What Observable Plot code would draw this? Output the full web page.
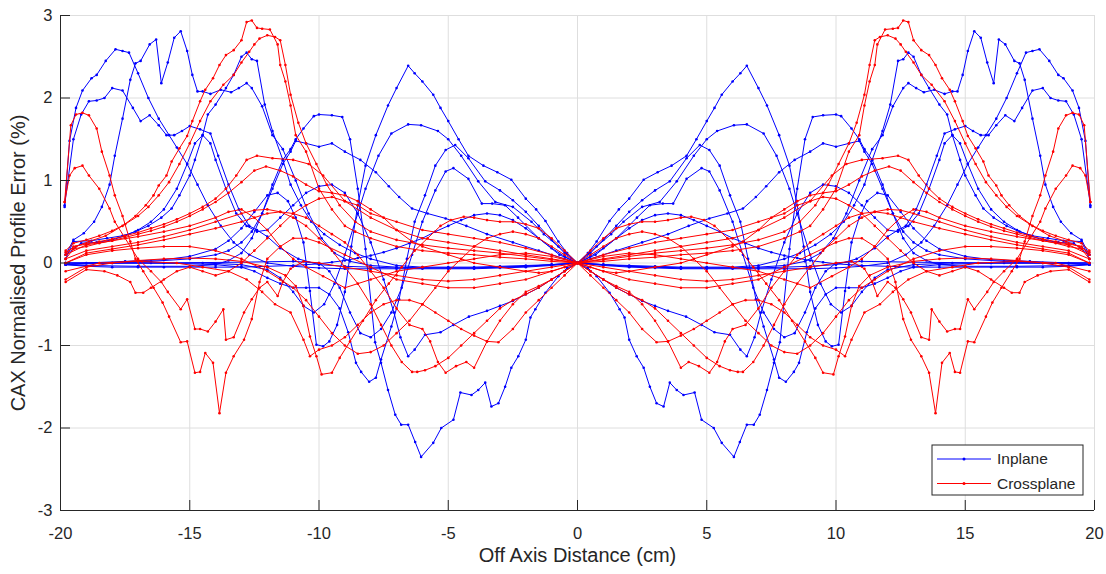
<!DOCTYPE html>
<html><head><meta charset="utf-8">
<script src="https://cdn.jsdelivr.net/npm/d3@7"></script>
<script src="https://cdn.jsdelivr.net/npm/@observablehq/plot@0.6"></script>
<style>
body{margin:0;background:#fff;}
#wrap{position:relative;width:1106px;height:574px;}
#legend{position:absolute;left:931px;top:444px;}
</style></head><body><div id="wrap"></div>
<script>
// Values read for the right half (x >= 0); the profiles are mirror-symmetric about x = 0.
const inplane1 = [[0,0],[1,-0.02],[2,-0.03],[3,-0.04],[4,-0.05],[5,-0.05],[6,-0.05],[7,-0.03],[8,0.05],[8.6,0.12],[9.2,0.22],[9.8,0.35],[10.3,0.5],[10.7,0.7],[11.1,0.95],[11.4,1.25],[11.8,1.6],[12.1,1.92],[12.4,2.45],[12.6,2.47],[12.8,2.55],[13.0,2.5],[13.3,2.28],[13.6,2.12],[14.0,1.92],[14.3,1.8],[14.5,1.55],[14.8,1.25],[15.0,1.06],[15.4,0.82],[15.7,0.66],[16.1,0.55],[16.6,0.45],[17.1,0.38],[17.6,0.33],[18.2,0.3],[18.8,0.27],[19.5,0.26],[19.8,0.05]];
const inplane2 = [[0,0],[1,-0.02],[2,-0.04],[3,-0.05],[4,-0.06],[5,-0.06],[6,-0.06],[7,-0.05],[8,-0.03],[8.8,0.02],[9.4,0.12],[9.9,0.3],[10.4,0.6],[10.9,1.0],[11.4,1.38],[11.8,1.55],[12.2,1.9],[12.6,2.12],[12.8,2.18],[13.1,2.12],[13.4,2.07],[13.8,2.1],[14.2,2.05],[14.5,2.08],[14.7,2.08],[14.9,2.28],[15.1,2.57],[15.35,2.81],[15.6,2.73],[15.85,2.43],[16.1,2.18],[16.3,2.71],[16.55,2.65],[16.9,2.45],[17.1,2.42],[17.3,2.22],[17.6,1.75],[17.9,1.3],[18.1,0.95],[18.4,0.68],[18.7,0.5],[19.1,0.36],[19.5,0.28],[19.8,0.1]];
const inplane3 = [[0,0],[1,-0.03],[2,-0.05],[3,-0.06],[4,-0.07],[5,-0.07],[6,-0.07],[7,-0.07],[8,-0.07],[9,-0.07],[10,-0.06],[11,-0.04],[12,0.0],[12.7,0.1],[13.3,0.25],[13.8,0.45],[14.3,0.7],[14.7,0.95],[15.1,1.2],[15.5,1.4],[15.8,1.55],[16.2,1.75],[16.6,2.0],[17.0,2.3],[17.35,2.55],[17.6,2.57],[17.87,2.59],[18.25,2.45],[18.6,2.28],[18.8,2.24],[19.15,2.09],[19.4,1.88],[19.65,1.48],[19.84,0.68]];
const inplane4 = [[0,0],[1,-0.02],[2,-0.04],[3,-0.05],[4,-0.06],[5,-0.06],[6,-0.06],[7,-0.06],[8,-0.05],[9,-0.04],[10,-0.02],[10.8,0.05],[11.5,0.18],[12.0,0.32],[12.4,0.4],[12.7,0.45],[13.1,0.65],[13.5,0.95],[13.9,1.3],[14.2,1.57],[14.6,1.62],[15.0,1.66],[15.3,1.6],[15.6,1.55],[15.9,1.55],[16.2,1.67],[16.55,1.79],[16.9,1.72],[17.2,1.88],[17.6,2.09],[18.0,2.12],[18.3,2.0],[18.6,1.97],[18.9,1.96],[19.2,1.8],[19.5,1.5],[19.84,0.7]];
const inplane5 = [[0,0],[0.4,0.12],[0.74,0.26],[1.24,0.51],[1.6,0.65],[2.0,0.78],[2.56,1.01],[3.1,1.1],[3.64,1.18],[4.22,1.3],[4.6,1.5],[5.0,1.72],[5.3,1.88],[5.58,2.04],[6.0,2.2],[6.3,2.3],[6.55,2.39],[7.0,2.12],[7.33,1.91],[7.8,1.55],[8.2,1.18],[8.5,0.7],[8.75,0.2],[9.0,-0.35],[9.3,-0.75],[9.6,-0.95],[9.84,-1.01],[10.1,-0.99],[10.35,-0.34],[10.6,0.25],[10.9,0.55],[11.2,0.75],[11.6,0.85],[12.0,0.82],[12.5,0.62],[13.0,0.42],[13.5,0.27],[14.0,0.17],[15.0,0.08],[16.0,0.04],[17.5,0.02],[19.0,0.0],[19.8,-0.02]];
const inplane6 = [[0,0],[0.5,0.12],[1.0,0.28],[1.5,0.45],[2.0,0.62],[2.5,0.76],[3.0,0.88],[3.57,0.99],[4.22,1.27],[4.73,1.43],[5.1,1.37],[5.5,1.18],[5.9,0.82],[6.3,0.5],[6.6,0.05],[6.9,-0.44],[7.2,-0.77],[7.6,-1.17],[7.8,-1.39],[8.06,-1.44],[8.37,-1.32],[8.57,-1.21],[8.87,-0.84],[9.2,-0.55],[9.6,-0.38],[10.0,-0.3],[10.5,-0.3],[11.0,-0.3],[11.5,-0.25],[12.0,-0.18],[12.5,-0.1],[13.0,-0.05],[14.0,-0.02],[16.0,0.0],[18.0,0.0],[19.8,0.0]];
const inplane7 = [[0,0],[0.74,0.2],[1.3,0.35],[1.78,0.5],[2.5,0.68],[3.18,0.74],[3.84,0.99],[4.5,1.3],[5.0,1.5],[5.4,1.6],[6.05,1.67],[6.55,1.68],[7.2,1.57],[7.7,1.3],[8.2,0.9],[8.6,0.5],[9.0,0.1],[9.4,-0.25],[9.8,-0.5],[10.2,-0.6],[10.6,-0.52],[11.0,-0.35],[11.5,-0.18],[12.0,-0.08],[13.0,-0.02],[14.5,0.0],[16.5,0.0],[19.8,0.0]];
const inplane8 = [[0,0],[0.7,0.1],[1.5,0.3],[2.3,0.55],[2.8,0.7],[3.3,0.72],[3.7,0.72],[4.22,1.02],[4.8,1.15],[5.1,1.11],[5.5,0.88],[6.0,0.5],[6.4,0.1],[6.8,-0.3],[7.2,-0.6],[7.6,-0.8],[8.0,-0.9],[8.4,-0.85],[8.8,-0.6],[9.2,-0.3],[9.6,-0.1],[10.0,0.0],[11.0,0.02],[13.0,0.01],[16.0,0.0],[19.8,0.0]];
const inplane9 = [[0,0],[0.5,-0.1],[1.0,-0.2],[1.5,-0.3],[2.0,-0.38],[2.5,-0.46],[3.0,-0.52],[3.5,-0.58],[4.2,-0.65],[4.8,-0.75],[5.3,-0.84],[5.9,-0.87],[6.3,-1.05],[6.55,-1.13],[6.85,-0.9],[7.1,-0.6],[7.5,-0.2],[8.0,0.25],[8.5,0.6],[9.0,0.85],[9.5,0.95],[10.0,0.93],[10.5,0.85],[11.0,0.7],[11.5,0.55],[12.0,0.4],[12.4,0.38],[12.8,0.45],[13.2,0.6],[13.6,0.9],[14.0,1.25],[14.2,1.45],[14.5,1.55],[14.8,1.45],[15.1,1.2],[15.5,0.9],[16.0,0.65],[16.5,0.5],[17.0,0.4],[17.5,0.33],[18.0,0.28],[18.6,0.25],[19.2,0.24],[19.8,0.1]];
const inplane10 = [[0,0],[0.5,0.05],[1.5,0.15],[2.5,0.25],[3.5,0.35],[4.3,0.45],[5.1,0.54],[5.8,0.6],[6.4,0.66],[6.9,0.8],[7.3,0.93],[7.8,1.1],[8.4,1.25],[9.0,1.35],[9.5,1.45],[10.0,1.41],[10.5,1.45],[10.9,1.48],[11.1,1.35],[11.4,1.2],[11.8,0.9],[12.2,0.6],[12.6,0.38],[13.0,0.25],[13.5,0.15],[14.0,0.1],[15.0,0.05],[16.5,0.02],[18.0,0.0],[19.8,-0.02]];
const inplane11 = [[0,0],[0.4,-0.06],[0.74,-0.16],[1.24,-0.36],[1.63,-0.56],[1.82,-0.66],[2.0,-0.93],[2.29,-1.13],[2.56,-1.27],[2.8,-1.5],[3.06,-1.7],[3.33,-1.74],[3.57,-1.45],[3.84,-1.54],[4.1,-1.6],[4.53,-1.57],[4.8,-1.9],[5.27,-2.0],[5.58,-2.18],[6.05,-2.35],[6.28,-2.17],[6.55,-1.96],[6.82,-1.96],[7.05,-1.84],[7.33,-1.54],[7.6,-1.21],[7.83,-0.96],[8.2,0.17],[8.5,0.9],[8.8,1.5],[9.1,1.77],[9.5,1.79],[10.0,1.8],[10.2,1.78],[10.6,1.63],[10.9,1.5],[11.1,1.38],[11.4,1.25],[11.8,0.95],[12.2,0.6],[12.6,0.3],[13.0,0.12],[13.5,0.03],[14.0,-0.02],[15.0,-0.04],[17.0,-0.04],[19.0,-0.03],[19.8,-0.02]];
const inplane12 = [[0,0],[0.5,0.08],[1,0.18],[1.5,0.3],[2,0.42],[2.5,0.52],[3,0.58],[3.5,0.6],[4,0.58],[4.5,0.52],[5,0.45],[5.5,0.38],[6,0.3],[6.5,0.24],[7,0.18],[7.5,0.13],[8,0.09],[8.5,0.06],[9,0.03],[9.5,0.01],[10,-0.01],[10.5,-0.02],[11,-0.03],[12,-0.04],[13,-0.05],[14,-0.05],[15,-0.05],[16,-0.05],[17,-0.05],[18,-0.05],[19,-0.04],[19.8,-0.02]];

const crossplane1 = [[0,0],[1,0.02],[2,0.05],[3,0.07],[4,0.1],[5,0.12],[6,0.15],[7,0.2],[8,0.3],[8.6,0.38],[9.0,0.45],[9.5,0.65],[10.0,0.9],[10.5,1.35],[10.9,1.55],[11.1,1.91],[11.3,2.2],[11.5,2.4],[11.6,2.65],[11.9,2.83],[12.2,2.84],[12.4,2.85],[12.6,2.94],[12.8,2.92],[13.0,2.7],[13.3,2.58],[13.6,2.52],[13.85,2.4],[14.1,2.24],[14.4,2.1],[14.6,1.96],[14.9,1.72],[15.1,1.54],[15.4,1.39],[15.7,1.23],[15.9,1.06],[16.2,0.94],[16.4,0.82],[16.7,0.7],[17.1,0.57],[17.6,0.45],[18.25,0.33],[18.9,0.26],[19.4,0.2],[19.8,0.13]];
const crossplane2 = [[0,0],[1,0.04],[2,0.08],[3,0.12],[4,0.15],[5,0.18],[6,0.22],[7,0.28],[8,0.38],[8.6,0.5],[9.2,0.7],[9.7,0.95],[10.1,1.2],[10.5,1.45],[10.8,1.7],[11.1,2.04],[11.3,2.4],[11.5,2.7],[11.7,2.74],[12.0,2.76],[12.3,2.72],[12.5,2.65],[12.7,2.56],[13.0,2.43],[13.3,2.28],[13.7,2.16],[14.2,1.96],[14.6,1.72],[15.0,1.45],[15.4,1.2],[15.8,0.98],[16.2,0.82],[16.6,0.68],[17.0,0.57],[17.5,0.47],[18.0,0.39],[18.5,0.33],[19.0,0.28],[19.5,0.24],[19.8,0.15]];
const crossplane3 = [[0,0],[1,-0.1],[2,-0.2],[3,-0.25],[4,-0.3],[5,-0.3],[6,-0.25],[7,-0.2],[8,-0.05],[9,0.1],[10,0.25],[10.5,0.3],[11,0.3],[11.5,0.2],[12,0.05],[12.3,-0.23],[12.6,-0.68],[12.9,-0.93],[13.3,-1.13],[13.6,-1.33],[13.85,-1.82],[14.1,-1.21],[14.4,-1.09],[14.6,-1.32],[14.8,-1.33],[15.1,-0.95],[15.35,-0.96],[15.8,-0.65],[16.05,-0.48],[16.4,-0.3],[16.8,-0.1],[17.1,0.05],[17.3,0.26],[17.6,0.57],[17.9,0.82],[18.1,1.06],[18.4,1.35],[18.6,1.63],[18.9,1.79],[19.15,1.82],[19.4,1.8],[19.6,1.67],[19.84,0.74]];
const crossplane4 = [[0,0],[1,-0.05],[2,-0.1],[3,-0.15],[4,-0.2],[5,-0.22],[6,-0.2],[7,-0.15],[8,-0.1],[9,-0.05],[10,0.0],[10.6,0.02],[11.1,-0.07],[11.4,-0.23],[11.6,-0.4],[12.0,-0.23],[12.3,-0.3],[12.6,-0.44],[12.9,-0.6],[13.3,-0.9],[13.6,-0.93],[13.7,-0.56],[14.0,-0.71],[14.3,-0.83],[14.6,-0.8],[14.8,-0.8],[15.1,-0.44],[15.35,-0.56],[15.85,-0.35],[16.1,-0.23],[16.5,-0.1],[17.0,0.05],[17.5,0.3],[17.9,0.5],[18.1,0.66],[18.5,0.9],[18.9,1.06],[19.15,1.18],[19.45,1.15],[19.65,1.06],[19.84,0.74]];
const crossplane5 = [[0,0],[1,0.05],[2,0.1],[3,0.15],[4,0.2],[5,0.25],[6,0.3],[7,0.4],[8,0.55],[9,0.75],[9.84,1.06],[10.4,1.2],[11,1.25],[11.8,1.27],[12.4,1.3],[12.8,1.25],[13.2,1.06],[13.6,0.9],[14,0.78],[14.5,0.68],[15,0.6],[15.5,0.53],[16,0.47],[16.5,0.42],[17,0.37],[17.5,0.33],[18,0.29],[18.5,0.26],[19,0.23],[19.5,0.2],[19.8,0.1]];
const crossplane6 = [[0,0],[0.5,-0.05],[1,-0.1],[1.5,-0.12],[2,-0.1],[3,-0.05],[4,0.0],[5,0.1],[6,0.2],[6.4,0.26],[7,0.4],[7.5,0.55],[8,0.65],[8.5,0.75],[9,0.82],[9.5,0.85],[10,0.87],[10.5,0.95],[11,1.05],[11.5,1.12],[12.05,1.17],[12.5,1.12],[13,0.98],[13.5,0.85],[14,0.74],[14.5,0.65],[15,0.57],[15.5,0.5],[16,0.44],[16.5,0.39],[17,0.35],[17.5,0.31],[18,0.27],[18.5,0.24],[19,0.2],[19.5,0.17],[19.8,0.05]];
const crossplane7 = [[0,0],[0.5,0.15],[1,0.3],[1.5,0.42],[2,0.47],[2.5,0.5],[3,0.5],[3.5,0.52],[4,0.55],[4.4,0.56],[4.9,0.52],[5.3,0.45],[5.8,0.3],[6.3,0.15],[6.8,-0.05],[7.3,-0.25],[7.8,-0.45],[8.3,-0.7],[8.8,-0.95],[9.2,-1.15],[9.5,-1.33],[9.9,-1.35],[10.1,-1.13],[10.35,-0.89],[10.6,-0.52],[10.9,-0.28],[11.3,-0.15],[12,-0.05],[13,0.02],[14,0.05],[15,0.06],[16,0.05],[17,0.03],[18,0.0],[19,-0.05],[19.8,-0.2]];
const crossplane8 = [[0,0],[0.5,-0.1],[1,-0.2],[1.5,-0.3],[2,-0.38],[2.5,-0.45],[3,-0.55],[3.5,-0.7],[4,-0.85],[4.5,-1.0],[5,-1.15],[5.5,-1.25],[5.9,-1.3],[6.2,-1.32],[6.4,-1.32],[6.8,-1.2],[7.2,-1.0],[7.6,-0.75],[8,-0.5],[8.5,-0.25],[9,-0.05],[9.5,0.15],[10,0.3],[10.5,0.45],[11,0.55],[11.5,0.62],[12,0.65],[12.5,0.64],[13,0.6],[14,0.5],[15,0.4],[16,0.32],[17,0.25],[18,0.2],[19,0.15],[19.8,0.05]];
const crossplane9 = [[0,0],[0.5,-0.1],[1,-0.2],[1.5,-0.28],[2,-0.35],[2.5,-0.5],[3,-0.7],[3.5,-0.95],[4.0,-1.27],[4.3,-1.2],[4.7,-1.25],[5.1,-1.33],[5.4,-1.2],[5.7,-0.95],[6,-0.8],[6.5,-0.75],[7,-0.55],[7.5,-0.3],[8,-0.1],[8.5,0.1],[9,0.25],[9.5,0.35],[10,0.45],[10.5,0.55],[11,0.6],[11.5,0.62],[12,0.6],[13,0.5],[14,0.42],[15,0.35],[16,0.28],[17,0.22],[18,0.17],[19,0.12],[19.8,0.0]];
const crossplane10 = [[0,0],[0.5,-0.15],[1,-0.3],[1.5,-0.45],[2,-0.6],[2.5,-0.8],[3.06,-0.96],[3.5,-0.95],[4,-0.88],[4.5,-0.8],[5,-0.7],[5.5,-0.6],[6,-0.5],[6.5,-0.45],[7,-0.45],[7.5,-0.5],[8,-0.6],[8.5,-0.75],[9,-0.9],[9.5,-1.0],[10,-1.05],[10.35,-1.13],[10.6,-0.93],[11.1,-0.6],[11.7,-0.5],[12.2,-0.35],[12.8,-0.2],[13.5,-0.1],[14.5,-0.05],[15.5,0.0],[17,0.02],[18.5,0.0],[19.8,-0.1]];
const crossplane11 = [[0,0],[0.5,0.1],[1,0.2],[1.5,0.3],[2,0.35],[2.5,0.38],[3,0.35],[3.5,0.3],[4,0.2],[4.5,0.05],[5,-0.1],[5.5,-0.3],[6,-0.5],[6.5,-0.7],[7,-0.85],[7.5,-1.0],[8,-1.08],[8.5,-1.1],[9,-1.0],[9.5,-0.85],[10,-0.65],[10.5,-0.45],[11,-0.3],[11.5,-0.2],[12,-0.1],[13,0.05],[14,0.15],[15,0.2],[16,0.2],[17,0.18],[18,0.15],[19,0.1],[19.8,0.0]];
const crossplane12 = [[0,0],[1,0.1],[2,0.18],[3,0.25],[4,0.3],[5,0.35],[6,0.4],[7,0.5],[8,0.6],[8.5,0.7],[9,0.75],[9.5,0.8],[10,0.78],[10.5,0.7],[11,0.6],[11.5,0.45],[12,0.3],[12.5,0.15],[13,0.0],[13.5,-0.1],[14,-0.15],[14.5,-0.1],[15,-0.05],[15.5,-0.1],[16,-0.2],[16.5,-0.3],[16.8,-0.36],[17.1,-0.36],[17.3,-0.23],[17.8,-0.15],[18.3,-0.1],[19,-0.08],[19.8,-0.23]];
const crossplane13 = [[0,0],[1,0.08],[2,0.12],[3,0.1],[4,0.05],[5,0],[6,-0.05],[7,-0.1],[8,-0.2],[9,-0.3],[9.84,-0.16],[10.5,-0.05],[11,0.05],[11.5,0.2],[12,0.4],[12.5,0.55],[13,0.65],[13.5,0.62],[14,0.55],[15,0.45],[16,0.38],[17,0.32],[18,0.27],[19,0.22],[19.8,0.1]];

const inplaneCurves = [inplane1,inplane2,inplane3,inplane4,inplane5,inplane6,inplane7,inplane8,inplane9,inplane10,inplane11,inplane12];
const crossplaneCurves = [crossplane1,crossplane2,crossplane3,crossplane4,crossplane5,crossplane6,crossplane7,crossplane8,crossplane9,crossplane10,crossplane11,crossplane12,crossplane13];

const seriesNames = ["Inplane", "Crossplane"];
const seriesColors = ["#0000ff", "#ff0000"];
const xTicks = [-20, -15, -10, -5, 0, 5, 10, 15, 20];
const yTicks = [-3, -2, -1, 0, 1, 2, 3];
const xLabel = "Off Axis Distance (cm)";
const yLabel = "CAX Normalised Profile Error (%)";

function fullProfile(half, id) {
  const pts = [];
  for (let i = half.length - 1; i >= 1; i--) pts.push({id, x: -half[i][0], y: half[i][1]});
  for (const [x, y] of half) pts.push({id, x, y});
  return pts;
}
const inData = inplaneCurves.flatMap((c, i) => fullProfile(c, "in" + i));
const crossData = crossplaneCurves.flatMap((c, i) => fullProfile(c, "cr" + i));

const W = 1106, H = 574, mL = 60, mR = 12, mT = 15, mB = 64;
const axisColor = "#262626";
const font = "'Liberation Sans', Arial, Helvetica, sans-serif";

const chart = Plot.plot({
  width: W, height: H,
  marginLeft: mL, marginRight: mR, marginTop: mT, marginBottom: mB,
  x: {domain: [-20, 20]},
  y: {domain: [-3, 3]},
  style: {fontFamily: font, fontSize: "16.5px", color: axisColor, background: "#fff", overflow: "visible"},
  marks: [
    Plot.gridX(xTicks, {stroke: "#dedede", strokeOpacity: 1}),
    Plot.gridY(yTicks, {stroke: "#dedede", strokeOpacity: 1}),
    Plot.line(inData, {x: "x", y: "y", z: "id", stroke: seriesColors[0], strokeWidth: 1}),
    Plot.dot(inData, {x: "x", y: "y", r: 1.3, fill: seriesColors[0]}),
    Plot.line(crossData, {x: "x", y: "y", z: "id", stroke: seriesColors[1], strokeWidth: 1}),
    Plot.dot(crossData, {x: "x", y: "y", r: 1.3, fill: seriesColors[1]}),
    Plot.ruleX([-20], {stroke: axisColor}),
    Plot.ruleY([-3], {stroke: axisColor}),
    Plot.tickX(xTicks, {x: d => d, stroke: axisColor, insetTop: (H - mT - mB) - 10}),
    Plot.tickY(yTicks, {y: d => d, stroke: axisColor, insetRight: (W - mL - mR) - 10}),
    Plot.axisX(xTicks, {tickSize: 0, tickPadding: 17, tickFormat: d => String(d), label: null, fontSize: 16.5}),
    Plot.axisY(yTicks, {tickSize: 0, tickPadding: 8, tickFormat: d => String(d), label: null, fontSize: 16.5}),
    Plot.text([xLabel], {frameAnchor: "bottom", dy: 45, lineAnchor: "middle", textAnchor: "middle", fontSize: 20, fill: axisColor}),
    Plot.text([yLabel], {frameAnchor: "left", dx: -42, rotate: -90, textAnchor: "middle", lineAnchor: "middle", fontSize: 20, fill: axisColor})
  ]
});
const wrap = document.getElementById("wrap");
wrap.appendChild(chart);

// Legend box (overlay)
const lg = d3.select(wrap).append("svg").attr("id", "legend").attr("width", 154).attr("height", 53);
lg.append("rect").attr("x", 1).attr("y", 1).attr("width", 151).attr("height", 50)
  .attr("fill", "#fff").attr("stroke", axisColor).attr("stroke-width", 1);
seriesNames.forEach((name, i) => {
  const cy = 15 + i * 24.5;
  lg.append("line").attr("x1", 6).attr("x2", 60).attr("y1", cy).attr("y2", cy)
    .attr("stroke", seriesColors[i]).attr("stroke-width", 1);
  lg.append("circle").attr("cx", 33).attr("cy", cy).attr("r", 1.5).attr("fill", seriesColors[i]);
  lg.append("text").attr("x", 66).attr("y", cy).attr("dy", "0.35em")
    .attr("font-family", font).attr("font-size", 15.5).attr("fill", axisColor).text(name);
});
</script></body></html>
